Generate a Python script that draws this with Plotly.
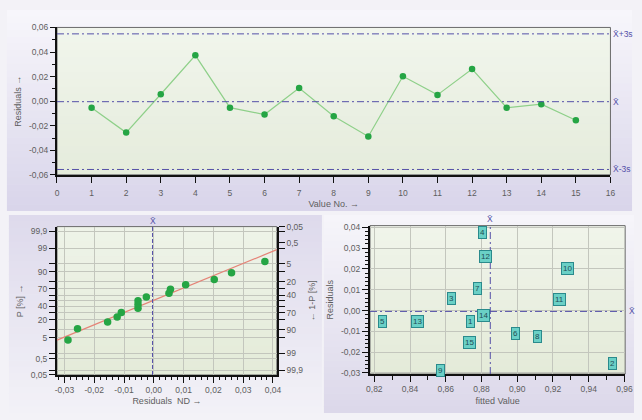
import plotly.graph_objects as go
import numpy as np
from statistics import NormalDist

# ---- data -------------------------------------------------------------
value_no = list(range(1, 16))
residuals = [-0.0053, -0.0256, 0.0056, 0.0373, -0.0053, -0.0109, 0.0107, -0.0123,
             -0.0288, 0.0203, 0.0051, 0.0261, -0.0053, -0.0025, -0.0155]
fitted = [0.8740, 0.9534, 0.8632, 0.8806, 0.8244, 0.8990, 0.8780, 0.9111,
          0.8573, 0.9280, 0.9234, 0.8824, 0.8443, 0.8811, 0.8734]

run_x_ticks = list(range(0, 17))
run_y_ticks = [-0.06, -0.04, -0.02, 0.00, 0.02, 0.04, 0.06]
nd_x_ticks = [-0.03, -0.02, -0.01, 0.00, 0.01, 0.02, 0.03, 0.04]
p_ticks = [99.9, 99, 90, 70, 40, 20, 5, 0.5, 0.05]
p_minor = [95, 80, 60, 50, 30, 10, 1, 0.1]
q_ticks = [0.05, 0.5, 5, 20, 40, 70, 90, 99, 99.9]
q_minor = [0.1, 1, 10, 30, 50, 60, 80, 95]
fit_x_ticks = [0.82, 0.84, 0.86, 0.88, 0.90, 0.92, 0.94, 0.96]
fit_y_ticks = [-0.03, -0.02, -0.01, 0.00, 0.01, 0.02, 0.03, 0.04]

# ---- statistics -------------------------------------------------------
res = np.array(residuals)
mean = float(res.mean())
sd = float(res.std(ddof=1))
fit_mean = float(np.mean(fitted))
nd = NormalDist()
n = len(res)
res_sorted = np.sort(res)
z_pos = [nd.inv_cdf((i - 0.375) / (n + 0.25)) for i in range(1, n + 1)]
nd_range = [-0.0325, 0.0413]
z_range = [nd.inv_cdf(0.0005), nd.inv_cdf(0.9995)]
fit_line_x = np.array(nd_range)
fit_line_z = (fit_line_x - mean) / sd


def fmt(v, d=2):
    return f"{v:.{d}f}".replace(".", ",")


def pfmt(p):
    return (f"{p:g}").replace(".", ",")


# ---- geometry (pixels) ------------------------------------------------
W, H = 642, 420


def dx(a, b):
    return [a / W, b / W]


def dy(top, bottom):
    return [1 - bottom / H, 1 - top / H]


FONT = "Liberation Sans, Arial, sans-serif"
TXT = "#5e5e5e"
REF = "#5550a8"
DASHDOT = "7px,3px,2px,3px"

fig = go.Figure()

# run chart
fig.add_trace(go.Scatter(x=value_no, y=residuals, mode="lines+markers",
                         line=dict(color="#8fd08a", width=1.2),
                         marker=dict(color="#25a544", size=6.5),
                         xaxis="x", yaxis="y", showlegend=False))

# normal probability plot
fig.add_trace(go.Scatter(x=fit_line_x, y=fit_line_z, mode="lines",
                         line=dict(color="#e58377", width=1.2),
                         xaxis="x2", yaxis="y2", showlegend=False))
fig.add_trace(go.Scatter(x=res_sorted, y=z_pos, mode="markers",
                         marker=dict(color="#25a544", size=7.5),
                         xaxis="x2", yaxis="y2", showlegend=False))
fig.add_trace(go.Scatter(x=res_sorted, y=z_pos, mode="markers",
                         marker=dict(opacity=0), hoverinfo="skip",
                         xaxis="x2", yaxis="y3", showlegend=False))

# residuals vs fitted (labels drawn as annotations)
fig.add_trace(go.Scatter(x=fitted, y=residuals, mode="markers",
                         marker=dict(opacity=0), hoverinfo="skip",
                         xaxis="x4", yaxis="y4", showlegend=False))

axis_common = dict(showline=True, linecolor="#111", linewidth=2, ticks="outside",
                   tickcolor="#111", tickwidth=1, showgrid=False, zeroline=False,
                   tickfont=dict(size=8.5, color=TXT, family=FONT), mirror=False)

shapes = []
annotations = []


def band_rect(x0, y0, x1, y1, c0, c1, nb=30):
    c0 = np.array([int(c0[i:i + 2], 16) for i in (1, 3, 5)], float)
    c1 = np.array([int(c1[i:i + 2], 16) for i in (1, 3, 5)], float)
    for k in range(nb):
        t = k / (nb - 1)
        c = (c0 * (1 - t) + c1 * t).round().astype(int)
        ya = y0 + (y1 - y0) * k / nb
        yb = y0 + (y1 - y0) * (k + 1) / nb + 0.6
        shapes.append(dict(type="rect", xref="paper", yref="paper", layer="below",
                           x0=x0 / W, x1=x1 / W, y0=1 - min(yb, y1) / H, y1=1 - ya / H,
                           fillcolor="#%02x%02x%02x" % tuple(c), line=dict(width=0)))


# panels
band_rect(3, 5, 640, 211, "#f7f6fb", "#d9d5ea")
band_rect(5, 215, 324, 418, "#dedaec", "#f2f1f7")
band_rect(326, 215, 642, 418, "#f6f5fa", "#dcd8ea")

# plot areas
top_dom_x, top_dom_y = dx(54, 618), dy(23, 174)
nd_dom_x, nd_dom_y = dx(54, 278), dy(227, 379)
fv_dom_x, fv_dom_y = dx(373, 633), dy(226, 378)
band_rect(54, 23, 618, 174, "#f1f5ec", "#e5ecdc", 20)
band_rect(54, 227, 278, 379, "#eef3e8", "#e4ebd9", 20)
band_rect(373, 226, 633, 378, "#f0f4ea", "#e4ebd9", 20)

# thin frame on the open sides
for xr, yr in (("x", "y"), ("x2", "y2"), ("x4", "y4")):
    shapes.append(dict(type="rect", xref=f"{xr} domain", yref=f"{yr} domain",
                       x0=0, x1=1, y0=0, y1=1, layer="below",
                       line=dict(color="#6a6a6a", width=1)))

# control lines of the run chart
for val, lab in ((mean + 3 * sd, "X\u0304+3s"), (mean, "X\u0304"), (mean - 3 * sd, "X\u0304-3s")):
    shapes.append(dict(type="line", xref="x domain", yref="y", x0=0, x1=1, y0=val, y1=val,
                       line=dict(color=REF, width=1, dash=DASHDOT)))
    annotations.append(dict(xref="paper", yref="y", x=619 / W, y=val, text=lab,
                            showarrow=False, xanchor="left", yanchor="middle",
                            font=dict(size=8.5, color=REF, family=FONT)))

# mean line of the normal plot
shapes.append(dict(type="line", xref="x2", yref="y2 domain", x0=mean, x1=mean, y0=0, y1=1,
                   line=dict(color=REF, width=1, dash="4px,2px")))
annotations.append(dict(xref="x2", yref="paper", x=mean, y=1 - 221 / H, text="X\u0304",
                        showarrow=False, font=dict(size=8.5, color=REF, family=FONT)))

# mean lines of the fitted plot
shapes.append(dict(type="line", xref="x4", yref="y4 domain", x0=fit_mean, x1=fit_mean, y0=0, y1=1,
                   line=dict(color=REF, width=1, dash=DASHDOT)))
shapes.append(dict(type="line", xref="x4 domain", yref="y4", x0=0, x1=1, y0=mean, y1=mean,
                   line=dict(color=REF, width=1, dash=DASHDOT)))
annotations.append(dict(xref="x4", yref="paper", x=fit_mean, y=1 - 219 / H, text="X\u0304",
                        showarrow=False, font=dict(size=8.5, color=REF, family=FONT)))
annotations.append(dict(xref="paper", yref="y4", x=635 / W, y=mean, text="X\u0304",
                        showarrow=False, xanchor="left",
                        font=dict(size=8.5, color=REF, family=FONT)))

# numbered labels
for i, (fx, ry) in enumerate(zip(fitted, residuals), start=1):
    annotations.append(dict(xref="x4", yref="y4", x=fx, y=ry, text=str(i), showarrow=False,
                            bgcolor="#6ad0c6", bordercolor="#2a8a8c", borderwidth=1,
                            borderpad=1, font=dict(size=8, color="#1f4d55", family=FONT)))

title_font = dict(size=9, color=TXT, family=FONT)

fig.update_layout(
    width=W, height=H, margin=dict(l=0, r=0, t=0, b=0),
    paper_bgcolor="#f3f2f7", plot_bgcolor="rgba(0,0,0,0)",
    font=dict(family=FONT, size=9, color=TXT),
    shapes=shapes, annotations=annotations,
    xaxis=dict(**axis_common, domain=top_dom_x, anchor="y", range=[0, 16],
               tickvals=run_x_ticks, ticktext=[str(v) for v in run_x_ticks], ticklen=6,
               ticklabelstandoff=3,
               title=dict(text="Value No. \u2192", font=title_font, standoff=4)),
    yaxis=dict(**axis_common, domain=top_dom_y, anchor="x", range=[-0.06, 0.06],
               tickvals=run_y_ticks, ticktext=[fmt(v) for v in run_y_ticks], ticklen=5,
               minor=dict(tickvals=[-0.05, -0.03, -0.01, 0.01, 0.03, 0.05], ticklen=3,
                          tickcolor="#111", ticks="outside"),
               title=dict(text="Residuals \u2192", font=title_font, standoff=6)),
    xaxis2=dict(**{**axis_common, "showgrid": True}, gridcolor="#c3c6bd", gridwidth=1,
                domain=nd_dom_x, anchor="y2", range=nd_range,
                tickvals=nd_x_ticks, ticktext=[fmt(v) for v in nd_x_ticks], ticklen=6,
                minor=dict(dtick=0.002, tick0=0, ticklen=3, tickcolor="#111", ticks="outside",
                           showgrid=False),
                title=dict(text="Residuals  ND \u2192", font=title_font, standoff=4)),
    yaxis2=dict(**{**axis_common, "showgrid": True}, gridcolor="#c3c6bd", gridwidth=1,
                domain=nd_dom_y, anchor="x2", range=z_range,
                tickvals=[nd.inv_cdf(p / 100) for p in p_ticks],
                ticktext=[pfmt(p) for p in p_ticks], ticklen=6,
                minor=dict(tickvals=[nd.inv_cdf(p / 100) for p in p_minor], ticklen=6,
                           tickcolor="#111", ticks="outside", showgrid=True,
                           gridcolor="#c3c6bd"),
                title=dict(text="P [%] \u2192", font=title_font, standoff=6)),
    yaxis3=dict(**axis_common, overlaying="y2", side="right", anchor="x2", range=z_range,
                tickvals=[nd.inv_cdf(1 - q / 100) for q in q_ticks],
                ticktext=[pfmt(q) for q in q_ticks], ticklen=6,
                minor=dict(tickvals=[nd.inv_cdf(1 - q / 100) for q in q_minor], ticklen=6,
                           tickcolor="#111", ticks="outside"),
                title=dict(text="\u2190 1-P [%]", font=title_font, standoff=6)),
    xaxis4=dict(**{**axis_common, "showgrid": True}, gridcolor="#c3c6bd", gridwidth=1,
                domain=fv_dom_x, anchor="y4", range=[0.8176, 0.9604],
                tickvals=fit_x_ticks, ticktext=[fmt(v) for v in fit_x_ticks], ticklen=6,
                minor=dict(dtick=0.01, tick0=0.82, ticklen=4, tickcolor="#111", ticks="outside",
                           showgrid=False),
                title=dict(text="fitted Value", font=title_font, standoff=4)),
    yaxis4=dict(**{**axis_common, "showgrid": True}, gridcolor="#c3c6bd", gridwidth=1,
                domain=fv_dom_y, anchor="x4", range=[-0.0305, 0.0408],
                tickvals=fit_y_ticks, ticktext=[fmt(v) for v in fit_y_ticks], ticklen=6,
                minor=dict(dtick=0.002, tick0=0, ticklen=3, tickcolor="#111", ticks="outside",
                           showgrid=False),
                title=dict(text="Residuals", font=title_font, standoff=6)),
)

fig.write_html("out.html")
